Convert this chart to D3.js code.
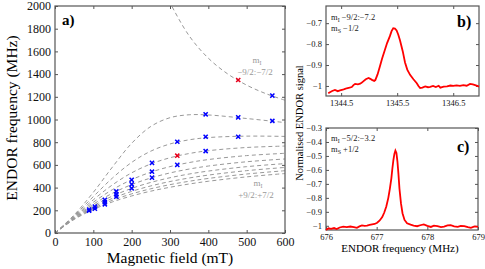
<!DOCTYPE html>
<html>
<head>
<meta charset="utf-8">
<script src="https://cdn.jsdelivr.net/npm/d3@7"></script>
<style>
body { margin: 0; background: #fff; }
svg, svg text { font-family: "Liberation Serif", "Times New Roman", serif; }
</style>
</head>
<body>
<div id="chart"></div>
<script>
// ENDOR frequencies vs magnetic field (a) plus two spectra (b, c)
//=================================================================

// field points (mT) the dashed curves are read at
var curveField = [0, 50, 100, 150, 200, 250, 300, 350, 400, 500, 600];
// nine lower transitions, MHz
var lowerCurves = [
    [0, 159.5, 358.4, 581.9, 790.2, 938.9, 1015.9, 1041.6, 1039.9, 1008.7, 972.9],
    [0, 152.2, 320.6, 484.7, 622.1, 721.2, 784.4, 821.1, 840.8, 853.4, 851.1],
    [0, 145.8, 292.7, 424.3, 530.1, 608.2, 662.9, 700.2, 725.2, 753.4, 766.0],
    [0, 140.1, 271.1, 382.2, 469.8, 536.0, 584.8, 620.7, 647.2, 681.9, 702.2],
    [0, 135.1, 253.6, 350.4, 426.3, 484.6, 529.2, 563.4, 590.0, 627.7, 652.2],
    [0, 130.6, 239.1, 325.6, 393.1, 445.7, 486.9, 519.6, 545.7, 584.6, 611.5],
    [0, 126.5, 226.9, 305.3, 366.6, 414.9, 453.4, 484.6, 510.2, 549.3, 577.6],
    [0, 122.7, 216.4, 288.4, 344.8, 389.7, 426.0, 455.8, 480.7, 519.7, 548.8],
    [0, 119.3, 207.2, 274.1, 326.5, 368.6, 403.0, 431.7, 455.9, 494.5, 523.9]
];
// the mI -9/2:-7/2 branch coming down from the top
var upperField = [290, 300, 350, 400, 450, 500, 550, 600];
var upperFreq = [2103.7, 2029.6, 1737.3, 1540.3, 1402.7, 1302.8, 1227.8, 1169.8];

// measured ENDOR lines
var blueField = [89, 89, 104, 104, 130, 130, 130, 160, 160, 160, 200, 200, 200,
    253, 253, 253, 319, 319, 393, 393, 393, 478, 478, 567, 567];
var blueFreq = [196, 206, 214, 232, 253, 272, 292, 320, 341, 366, 394, 429, 468,
    488, 540, 618, 600, 804, 722, 848, 1046, 848, 1019, 987, 1210];
var redField = [319, 478];
var redFreq = [681, 1348];

// spectrum b) mI -9/2:-7/2, mS -1/2
var bFreq = [1344.27, 1344.30, 1344.34, 1344.39, 1344.44, 1344.48, 1344.53, 1344.57, 1344.60, 1344.65,
    1344.69, 1344.72, 1344.75, 1344.80, 1344.84, 1344.87, 1344.90, 1344.94, 1344.99, 1345.02,
    1345.05, 1345.09, 1345.11, 1345.15, 1345.19, 1345.23, 1345.28, 1345.32, 1345.37, 1345.40,
    1345.43, 1345.46, 1345.49, 1345.52, 1345.55, 1345.60, 1345.64, 1345.68, 1345.73, 1345.79,
    1345.85, 1345.88, 1345.91, 1345.95, 1346.00, 1346.05, 1346.09, 1346.14, 1346.19, 1346.24,
    1346.27, 1346.33, 1346.39, 1346.45, 1346.50, 1346.56, 1346.62, 1346.68, 1346.74, 1346.80,
    1346.85, 1346.89, 1346.93, 1346.96];
var bSignal = [-1.035, -1.030, -1.024, -1.019, -1.025, -1.021, -1.018, -1.014, -1.011, -1.008,
    -1.005, -0.996, -0.990, -0.992, -0.989, -0.984, -0.977, -0.968, -0.962, -0.966,
    -0.971, -0.976, -0.972, -0.945, -0.908, -0.870, -0.828, -0.795, -0.762, -0.738,
    -0.724, -0.726, -0.735, -0.755, -0.782, -0.835, -0.888, -0.922, -0.947, -0.968,
    -0.987, -1.000, -1.010, -1.008, -1.002, -1.006, -1.004, -1.000, -1.005, -0.999,
    -1.008, -1.003, -1.002, -0.998, -1.000, -0.997, -1.000, -0.996, -0.999, -0.990,
    -0.993, -0.996, -1.000, -1.003];

// spectrum c) mI -5/2:-3/2, mS +1/2
var cFreq = [676.00, 676.05, 676.10, 676.16, 676.21, 676.27, 676.34, 676.41, 676.48, 676.55,
    676.61, 676.66, 676.71, 676.76, 676.81, 676.86, 676.91, 676.96, 677.01, 677.06,
    677.11, 677.15, 677.19, 677.23, 677.26, 677.29, 677.31, 677.33, 677.35, 677.37,
    677.39, 677.41, 677.43, 677.45, 677.48, 677.51, 677.55, 677.60, 677.67, 677.73,
    677.80, 677.86, 677.93, 678.00, 678.07, 678.13, 678.20, 678.27, 678.33, 678.40,
    678.46, 678.53, 678.60, 678.66, 678.73, 678.80, 678.86, 678.93, 679.00];
var cSignal = [-1.030, -1.018, -1.022, -1.016, -1.023, -1.012, -1.006, -1.010, -1.005, -1.009,
    -1.014, -1.004, -0.997, -1.001, -0.998, -0.993, -0.989, -0.987, -0.978, -0.962,
    -0.938, -0.905, -0.862, -0.800, -0.735, -0.660, -0.590, -0.530, -0.485, -0.462,
    -0.478, -0.540, -0.630, -0.735, -0.840, -0.910, -0.958, -0.982, -0.992, -0.998,
    -1.003, -0.996, -0.990, -1.001, -1.008, -0.999, -1.002, -1.009, -1.006, -0.997,
    -0.995, -1.004, -1.008, -1.000, -1.002, -1.010, -1.015, -1.004, -1.008];

// tick labels
var fieldTicks = [0, 100, 200, 300, 400, 500, 600];
var freqTicks = [0, 200, 400, 600, 800, 1000, 1200, 1400, 1600, 1800, 2000];
var bTicksX = [1344.5, 1345.5, 1346.5];
var bTicksY = [-1, -0.9, -0.8, -0.7];
var cTicksX = [676, 677, 678, 679];
var cTicksY = [-1, -0.9, -0.8, -0.7, -0.6, -0.5, -0.4, -0.3];

var svgWidth = 485;
var svgHeight = 269;
var axisColor = "#555";
var serif = '"Liberation Serif", "Times New Roman", serif';

var svg = d3.select("#chart")
    .append("svg")
    .attr("width", svgWidth)
    .attr("height", svgHeight);

var fmt = d3.format("~g");

// draws a box with inward ticks on all four sides
function drawFrame(g, x, y, xt, yt, fs, pad) {
    var w = x.range()[1], h = y.range()[0];
    g.append("g").attr("transform", `translate(0,${h})`)
        .call(d3.axisBottom(x).tickValues(xt).tickSizeInner(-3).tickSizeOuter(0).tickPadding(pad).tickFormat(fmt));
    g.append("g")
        .call(d3.axisLeft(y).tickValues(yt).tickSizeInner(-3).tickSizeOuter(0).tickPadding(pad).tickFormat(fmt));
    g.append("g")
        .call(d3.axisTop(x).tickValues(xt).tickSizeInner(-3).tickSizeOuter(0).tickFormat(""));
    g.append("g").attr("transform", `translate(${w},0)`)
        .call(d3.axisRight(y).tickValues(yt).tickSizeInner(-3).tickSizeOuter(0).tickFormat(""));
    g.selectAll(".domain").remove();
    g.selectAll("g").attr("font-family", null).attr("font-size", null);
    g.selectAll(".tick line").attr("stroke", axisColor);
    g.selectAll(".tick text").style("font-size", fs).attr("fill", "#111")
        .style("font-family", serif);
    g.append("rect").attr("width", w).attr("height", h)
        .attr("fill", "none").attr("stroke", axisColor).attr("stroke-width", 1.2);
}

// Panel a
//=========
var a = svg.append("g").attr("transform", "translate(55,6)");
var xA = d3.scaleLinear().domain([0, 600]).range([0, 230]);
var yA = d3.scaleLinear().domain([0, 2000]).range([227, 0]);

a.append("clipPath").attr("id", "clipA")
    .append("rect").attr("width", 230).attr("height", 227);

var line = d3.line().curve(d3.curveCatmullRom.alpha(0.5));
var curvesG = a.append("g").attr("clip-path", "url(#clipA)");

lowerCurves.forEach(function (vals) {
    curvesG.append("path")
        .attr("d", line(vals.map((v, i) => [xA(curveField[i]), yA(v)])))
        .attr("fill", "none").attr("stroke", "#999").attr("stroke-width", 1)
        .attr("stroke-dasharray", "4,3");
});
curvesG.append("path")
    .attr("d", line(upperFreq.map((v, i) => [xA(upperField[i]), yA(v)])))
    .attr("fill", "none").attr("stroke", "#999").attr("stroke-width", 1)
    .attr("stroke-dasharray", "4,3");

var cross = d3.symbol().type(d3.symbolX).size(13);
a.selectAll(".blue").data(blueField).enter().append("path")
    .attr("d", cross)
    .attr("transform", (d, i) => `translate(${xA(d)},${yA(blueFreq[i])})`)
    .attr("fill", "none").attr("stroke", "#0000ff").attr("stroke-width", 1.5);
a.selectAll(".red").data(redField).enter().append("path")
    .attr("d", cross)
    .attr("transform", (d, i) => `translate(${xA(d)},${yA(redFreq[i])})`)
    .attr("fill", "none").attr("stroke", "#e8001c").attr("stroke-width", 1.5);

drawFrame(a, xA, yA, fieldTicks, freqTicks, "12px", 4);

a.append("text").attr("x", 7).attr("y", 19)
    .attr("font-size", "15px").attr("font-weight", "bold").text("a)");

// grey "mI" transition labels
function mLabel(g, x, y, txt) {
    var t = g.append("text").attr("x", x).attr("y", y).attr("font-size", "9px")
        .attr("fill", "#999").attr("text-anchor", "middle");
    t.append("tspan").text("m");
    t.append("tspan").attr("font-size", "6px").attr("dy", 2).text("I");
    g.append("text").attr("x", x - 2).attr("y", y + 12).attr("font-size", "9px")
        .attr("fill", "#999").attr("text-anchor", "middle").text(txt);
}
mLabel(a, 202, 57, "\u22129/2:\u22127/2");
mLabel(a, 203, 180, "+9/2:+7/2");

svg.append("text")
    .attr("transform", "translate(17,118) rotate(-90)")
    .attr("text-anchor", "middle").attr("font-size", "15.5px")
    .text("ENDOR frequency (MHz)");
svg.append("text")
    .attr("x", 170).attr("y", 263)
    .attr("text-anchor", "middle").attr("font-size", "15.5px")
    .text("Magnetic field (mT)");

// Panel b
//=========
var b = svg.append("g").attr("transform", "translate(326,6)");
var xB = d3.scaleLinear().domain([1344.23, 1346.96]).range([0, 153]);
var yB = d3.scaleLinear().domain([-1.048, -0.618]).range([90, 0]);
drawFrame(b, xB, yB, bTicksX, bTicksY, "8.5px", 4);
b.append("path")
    .attr("d", d3.line()(bFreq.map((v, i) => [xB(v), yB(bSignal[i])])))
    .attr("fill", "none").attr("stroke", "#ff0000").attr("stroke-width", 1.8);

function specLabel(g, y, sub, rest) {
    var t = g.append("text").attr("x", 5).attr("y", y).attr("font-size", "8.5px").attr("fill", "#222");
    t.append("tspan").text("m");
    t.append("tspan").attr("font-size", "6px").attr("dy", 2).text(sub);
    t.append("tspan").attr("dy", -2).text(rest);
}
specLabel(b, 14, "I", " \u22129/2:\u22127.2");
specLabel(b, 25, "S", " \u22121/2");
b.append("text").attr("x", 131).attr("y", 21)
    .attr("font-size", "16px").attr("font-weight", "bold").text("b)");

// Panel c
//=========
var c = svg.append("g").attr("transform", "translate(326,128)");
var xC = d3.scaleLinear().domain([676, 679]).range([0, 152]);
var yC = d3.scaleLinear().domain([-1.03, -0.3]).range([102, 0]);
drawFrame(c, xC, yC, cTicksX, cTicksY, "8.5px", 4);
c.append("path")
    .attr("d", d3.line()(cFreq.map((v, i) => [xC(v), yC(cSignal[i])])))
    .attr("fill", "none").attr("stroke", "#ff0000").attr("stroke-width", 1.8);
specLabel(c, 13, "I", " \u22125/2:\u22123.2");
specLabel(c, 24, "S", " +1/2");
c.append("text").attr("x", 131).attr("y", 24)
    .attr("font-size", "16px").attr("font-weight", "bold").text("c)");

svg.append("text")
    .attr("transform", "translate(303,123) rotate(-90)")
    .attr("text-anchor", "middle").attr("font-size", "10.5px")
    .text("Normalised ENDOR signal");
svg.append("text")
    .attr("x", 400).attr("y", 252)
    .attr("text-anchor", "middle").attr("font-size", "11px")
    .text("ENDOR frequency (MHz)");
</script>
</body>
</html>
